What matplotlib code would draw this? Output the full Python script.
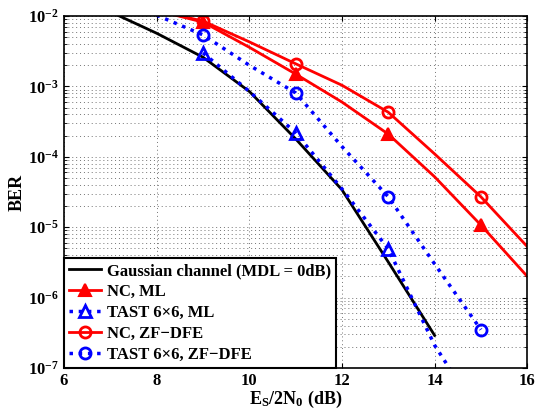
import numpy as np
import matplotlib
matplotlib.use('Agg')
import matplotlib.pyplot as plt

plt.rcParams['font.family'] = ['Liberation Serif', 'DejaVu Serif']
plt.rcParams['font.weight'] = 'bold'
plt.rcParams['axes.labelweight'] = 'bold'
plt.rcParams['mathtext.fontset'] = 'custom'
plt.rcParams['mathtext.rm'] = 'Liberation Serif:bold'
plt.rcParams['mathtext.it'] = 'Liberation Serif:bold'
plt.rcParams['mathtext.bf'] = 'Liberation Serif:bold'

# valeurs
snr_gauss = [7, 8, 9, 10, 11, 12, 13, 14]
ber_gauss = [1.15e-2, 5.7e-3, 2.6e-3, 8.5e-4, 1.8e-4, 3.4e-5, 3.2e-6, 2.9e-7]

snr_nc = [8, 9, 10, 11, 12, 13, 14, 15, 16]
ber_nc_ml = [1.2e-2, 8.2e-3, 3.6e-3, 1.5e-3, 6.0e-4, 2.1e-4, 5.2e-5, 1.07e-5, 2.0e-6]
ber_nc_zf = [1.2e-2, 8.5e-3, 4.3e-3, 2.1e-3, 1.04e-3, 4.3e-4, 1.1e-4, 2.7e-5, 5.3e-6]

snr_tast_ml = [9, 10, 11, 12, 13, 14, 15]
ber_tast_ml = [3.0e-3, 8.5e-4, 2.2e-4, 3.5e-5, 4.9e-6, 2.1e-7, 2.0e-8]

snr_tast_zf = [8, 9, 10, 11, 12, 13, 14, 15]
ber_tast_zf = [1.03e-2, 5.4e-3, 2.0e-3, 8.1e-4, 1.4e-4, 2.7e-5, 3.0e-6, 3.5e-7]

x_ticks = [6, 8, 10, 12, 14, 16]
y_exps = [-7, -6, -5, -4, -3, -2]

fig = plt.figure(figsize=(5.38, 4.12), dpi=100)
ax = fig.add_axes([0.119, 0.107, 0.861, 0.854])

ax.semilogy(snr_gauss, ber_gauss, 'k-', lw=2, label='Gaussian channel (MDL = 0dB)')
ax.semilogy(snr_nc, ber_nc_ml, '-', color='red', lw=2, marker='^', ms=8,
            mfc='red', mew=1.5, markevery=[1, 3, 5, 7], label='NC, ML')
ax.semilogy(snr_tast_ml, ber_tast_ml, ':', color='blue', lw=2.5, marker='^', ms=8,
            mfc='none', mew=2, markevery=[0, 2, 4], label='TAST 6\u00d76, ML')
ax.semilogy(snr_nc, ber_nc_zf, '-', color='red', lw=2, marker='o', ms=8,
            mfc='none', mew=2, markevery=[1, 3, 5, 7], label='NC, ZF\u2212DFE')
ax.semilogy(snr_tast_zf, ber_tast_zf, ':', color='blue', lw=2.5, marker='o', ms=8,
            mfc='none', mew=2, markevery=[1, 3, 5, 7], label='TAST 6\u00d76, ZF\u2212DFE')

ax.set_xlim(6, 16)
ax.set_ylim(1e-7, 1e-2)
ax.set_xticks(x_ticks, labels=[str(v) for v in x_ticks], fontsize=12, fontweight='bold')
ax.set_yticks([10.0 ** e for e in y_exps],
              labels=[r'$\mathbf{10^{%d}}$' % e for e in y_exps], fontsize=12)
ax.grid(True, which='major', ls=(0, (1, 3)), color='0.45', lw=0.7)
ax.grid(True, which='minor', axis='y', ls=(0, (1, 3)), color='0.45', lw=0.7)
ax.tick_params(which='both', direction='in', top=True, right=True)
ax.tick_params(axis='x', which='minor', bottom=False, top=False)
for s in ax.spines.values():
    s.set_linewidth(1.2)

ax.set_xlabel(r'E$_\mathrm{S}$/2N$_\mathrm{0}$ (dB)', fontsize=13, fontweight='bold', labelpad=0)
ax.set_ylabel('BER', fontsize=13, fontweight='bold', labelpad=2)

leg = ax.legend(loc='lower left', prop={'size': 12, 'weight': 'bold'}, handlelength=1.9,
                fancybox=False, framealpha=1, edgecolor='black', borderaxespad=0,
                borderpad=0.3, labelspacing=0.3, handletextpad=0.4)
leg.get_frame().set_linewidth(1.5)

fig.savefig('out.png', dpi=100)
